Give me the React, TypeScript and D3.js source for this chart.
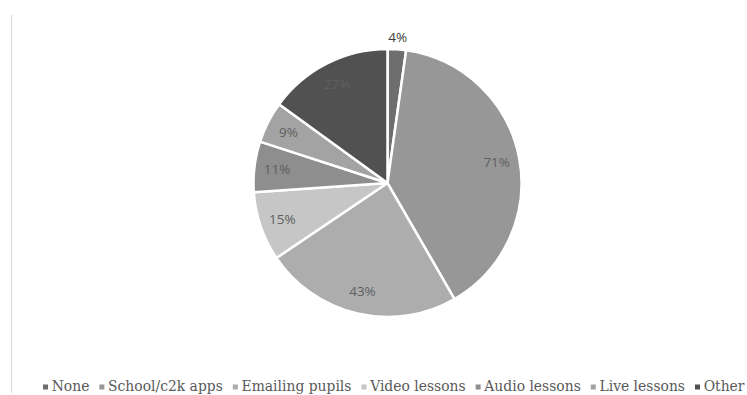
import React, { useEffect, useRef } from "react";
import * as d3 from "d3";

const categories = ["None", "School/c2k apps", "Emailing pupils", "Video lessons", "Audio lessons", "Live lessons", "Other"];
const values = [4, 71, 43, 15, 11, 9, 27];
const colors = ["#6e6e6e", "#979797", "#adadad", "#c6c6c6", "#8e8e8e", "#a3a3a3", "#515151"];
const outsideLabel = [true, false, false, false, false, false, false];

const W = 747;
const H = 395;

export default function App() {
  const ref = useRef<SVGSVGElement>(null);
  useEffect(() => {
    const svg = d3.select(ref.current);
    svg.selectAll("*").remove();

    svg.append("line")
      .attr("x1", 11.5).attr("x2", 11.5).attr("y1", 15).attr("y2", 393)
      .attr("stroke", "#d9d9d9").attr("stroke-width", 1);

    const cx = 387.5, cy = 183, R = 134;
    const pie = d3.pie<number>().sort(null).value((d) => d);
    const arcs = pie(values);
    const arc = d3.arc<d3.PieArcDatum<number>>().innerRadius(0).outerRadius(R);
    const g = svg.append("g").attr("transform", `translate(${cx},${cy})`);
    g.selectAll("path").data(arcs).enter().append("path")
      .attr("d", arc as any)
      .attr("fill", (_d, i) => colors[i])
      .attr("stroke", "#ffffff")
      .attr("stroke-width", 2.5)
      .attr("stroke-linejoin", "round");

    const inArc = d3.arc<d3.PieArcDatum<number>>().innerRadius(R * 0.83).outerRadius(R * 0.83);
    const outArc = d3.arc<d3.PieArcDatum<number>>().innerRadius(R + 12).outerRadius(R + 12);
    g.selectAll("text").data(arcs).enter().append("text")
      .attr("transform", (d, i) => {
        const c = (outsideLabel[i] ? outArc : inArc).centroid(d);
        return `translate(${c[0]},${c[1]})`;
      })
      .attr("text-anchor", "middle")
      .attr("dy", "0.35em")
      .attr("font-family", "'Open Sans', 'Noto Sans', sans-serif")
      .attr("font-size", 13.5)
      .attr("fill", (_d, i) => (outsideLabel[i] ? "#404040" : "#5f5f5f"))
      .text((d) => `${d.data}%`);

    // legend
    const lg = svg.append("g");
    const fs = 13.9;
    const items = categories.map((c, i) => {
      const it = lg.append("g");
      it.append("rect").attr("width", 5).attr("height", 5).attr("fill", colors[i]);
      const t = it.append("text").attr("font-family", "'DejaVu Serif', 'Liberation Serif', serif")
        .attr("font-size", fs).attr("fill", "#595959").text(c);
      return { it, t };
    });
    const widths = items.map((d) => (d.t.node() as SVGTextElement).getComputedTextLength());
    const markerW = 8.7;
    const gap = 10;
    let x = 43;
    const baseY = 391;
    items.forEach((d, i) => {
      d.it.attr("transform", `translate(${x},${baseY})`);
      d.it.select("rect").attr("x", 0).attr("y", -6.5);
      d.t.attr("x", markerW);
      x += markerW + widths[i] + gap;
    });
  }, []);
  return (
    <svg ref={ref} width={W} height={H} style={{ position: "absolute", left: 0, top: 0, background: "#fff" }} />
  );
}
